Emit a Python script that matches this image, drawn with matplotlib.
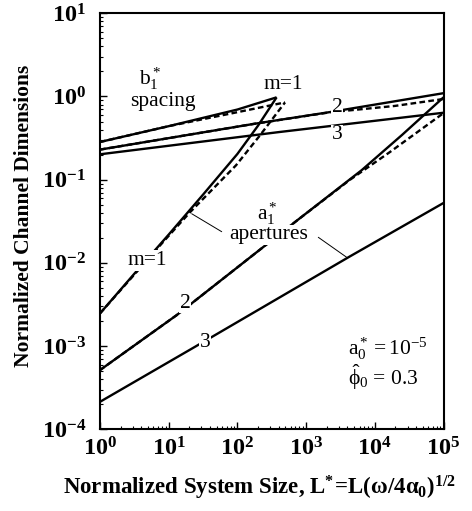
import matplotlib
matplotlib.use('Agg')
import numpy as np
import matplotlib.pyplot as plt
from matplotlib.ticker import LogLocator, FuncFormatter, NullFormatter

plt.rcParams['font.family'] = ['Liberation Serif', 'DejaVu Serif']
plt.rcParams['mathtext.fontset'] = 'custom'
plt.rcParams['mathtext.rm'] = 'Liberation Serif'
plt.rcParams['mathtext.it'] = 'Liberation Serif:italic'
plt.rcParams['mathtext.bf'] = 'Liberation Serif:bold'

# ---- data ----
# apertures a1*
L_a1 = [1, 3.16, 10, 31.6, 100, 200, 372]
a1 = [2.47e-3, 7.41e-3, 2.19e-2, 6.61e-2, 0.204, 0.447, 0.977]
L_a1_d = [1, 8.32, 20.4, 95.5, 213, 493]
a1_d = [2.47e-3, 1.79e-2, 4.06e-2, 0.149, 0.341, 0.849]
L_a2 = [1, 13.1, 771, 6430, 25100, 1e5]
a2 = [5.15e-4, 2.36e-3, 3.33e-2, 0.130, 0.347, 0.977]
L_a2_d = [1, 13.1, 771, 4365, 16600, 1e5]
a2_d = [5.15e-4, 2.36e-3, 3.33e-2, 0.100, 0.215, 0.631]
L_a3 = [1, 24.2, 4365, 1e5]
a3 = [2.14e-4, 9.82e-4, 1.20e-2, 5.25e-2]
# spacings b1*
L_b1 = [1, 10, 100, 372]
b1 = [0.284, 0.44, 0.697, 0.977]
L_b1_d = [1, 10, 100, 493]
b1_d = [0.284, 0.44, 0.648, 0.849]
L_b2 = [1, 180, 2230, 1e5]
b2 = [0.230, 0.471, 0.650, 1.096]
L_b2_d = [1, 180, 2230, 19500, 1e5]
b2_d = [0.230, 0.471, 0.646, 0.770, 0.933]
L_b3 = [1, 407, 1e5]
b3 = [0.202, 0.374, 0.638]

x_range = [1, 1e5]
y_range = [1e-4, 10]

fig = plt.figure(figsize=(4.72, 5.11), dpi=100)
ax = fig.add_axes([100/472, 1-429.3/511, 343.5/472, 416/511])
ax.set_xscale('log')
ax.set_yscale('log')
ax.set_xlim(x_range)
ax.set_ylim(y_range)

lw = 1.7
dash = (0, (2.4, 1.4))
for Ls, vs in [(L_a1_d, a1_d), (L_a2_d, a2_d), (L_b1_d, b1_d), (L_b2_d, b2_d)]:
    ax.plot(Ls, vs, color='black', lw=lw, ls=dash, zorder=2)
for Ls, vs in [(L_a1, a1), (L_a2, a2), (L_a3, a3), (L_b1, b1), (L_b2, b2), (L_b3, b3)]:
    ax.plot(Ls, vs, color='black', lw=lw, solid_capstyle='butt', solid_joinstyle='round', zorder=3)

for s in ax.spines.values():
    s.set_linewidth(1.5)
ax.tick_params(which='both', direction='in', top=False, right=False)
ax.tick_params(which='major', length=5, width=1.0, labelsize=17.5)
ax.tick_params(axis='x', which='major', pad=6)
ax.tick_params(axis='y', which='major', pad=10)
ax.tick_params(which='minor', length=2.5, width=0.8)
ax.xaxis.set_major_locator(LogLocator(base=10, numticks=20))
ax.yaxis.set_major_locator(LogLocator(base=10, numticks=20))
ax.xaxis.set_minor_locator(LogLocator(base=10, subs=np.arange(2, 10), numticks=100))
ax.yaxis.set_minor_locator(LogLocator(base=10, subs=np.arange(2, 10), numticks=100))
fmt = FuncFormatter(lambda v, p: r'$\mathbf{10^{%d}}$' % int(round(np.log10(v))))
ax.xaxis.set_major_formatter(fmt)
ax.yaxis.set_major_formatter(fmt)
ax.xaxis.set_minor_formatter(NullFormatter())
ax.yaxis.set_minor_formatter(NullFormatter())

fig.text(260/472, 1-494/511,
         r'Normalized System Size, $\mathbf{L^{*}\!=\!L(\omega/4\alpha_{0})^{1/2}}$',
         ha='center', va='baseline', fontsize=16.5, fontweight='bold')
fig.text(24/472, 1-216/511, 'Normalized Channel Dimensions', rotation=90,
         ha='center', va='center', fontsize=15.5, fontweight='bold')

wb = dict(facecolor='white', edgecolor='none', pad=0.5)
fs = 15.5
T = ax.transAxes
ax.text(0.1456, 0.8276, r'$\mathregular{b_1^*}$', transform=T, ha='center', va='baseline', fontsize=fs)
ax.text(0.182, 0.7772, 'spacing', transform=T, ha='center', va='baseline', fontsize=fs)
ax.text(0.534, 0.818, 'm=1', transform=T, ha='center', va='baseline', fontsize=fs)
ax.text(0.690, 0.7747, '2', transform=T, ha='center', va='center', fontsize=fs, bbox=wb, zorder=5)
ax.text(0.690, 0.7075, '3', transform=T, ha='center', va='center', fontsize=fs, bbox=wb, zorder=5)
ax.text(0.1368, 0.3950, 'm=1', transform=T, ha='center', va='baseline', fontsize=fs, bbox=wb, zorder=5)
ax.text(0.486, 0.503, r'$\mathregular{a_1^*}$', transform=T, ha='center', va='baseline', fontsize=fs, bbox=wb, zorder=5)
ax.text(0.492, 0.4563, 'apertures', transform=T, ha='center', va='baseline', fontsize=fs, bbox=wb, zorder=5)
ax.text(0.2475, 0.3036, '2', transform=T, ha='center', va='center', fontsize=fs, bbox=wb, zorder=5)
ax.text(0.3057, 0.2075, '3', transform=T, ha='center', va='center', fontsize=fs, bbox=wb, zorder=5)
ax.text(0.722, 0.179, r'$\mathregular{a_0^* = 10^{-5}}$', transform=T, ha='left', va='baseline', fontsize=fs)
ax.text(0.722, 0.107, r'$\mathrm{\hat{\phi}_0}$ = 0.3', transform=T, ha='left', va='baseline', fontsize=fs)

# leader lines from "apertures" label to curves
ax.annotate('', xy=(21.6, 0.039), xytext=((221.7-100)/343.5, (429.3-231.7)/416),
            xycoords='data', textcoords='axes fraction',
            arrowprops=dict(arrowstyle='-', lw=0.7, color='black', shrinkA=0, shrinkB=0))
ax.annotate('', xy=(4000, 0.0115), xytext=((318.3-100)/343.5, (429.3-237.3)/416),
            xycoords='data', textcoords='axes fraction',
            arrowprops=dict(arrowstyle='-', lw=0.7, color='black', shrinkA=0, shrinkB=0))

fig.savefig('out.png', dpi=100)
